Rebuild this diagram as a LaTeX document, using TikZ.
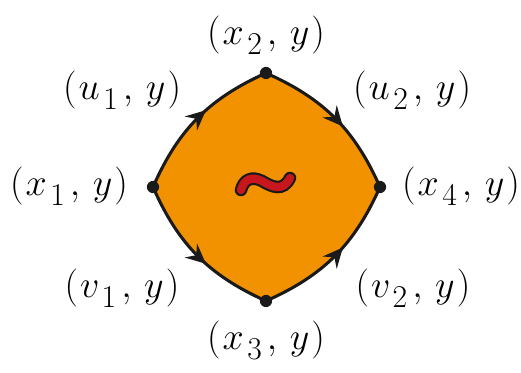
\documentclass[tikz,border=0pt]{standalone}
\usepackage{fontspec}
\usetikzlibrary{arrows.meta,decorations.markings}
\definecolor{kiteorange}{HTML}{F29200}
\definecolor{squigred}{HTML}{C8161D}
\definecolor{inkdark}{HTML}{1A1A1A}
\newcommand{\pt}[2]{$(\mkern1mu#1_{\mkern2mu\lower0.12em\hbox{$\scriptstyle#2$}}\mkern2mu,\mkern3mu y\mkern1mu)$}
\tikzset{
  edge/.style={line width=2pt,draw=inkdark,postaction={decorate},
    decoration={markings,mark=at position 0.57 with {\arrow{Stealth[length=13pt,width=12pt,inset=4.5pt]}}}},
  vert/.style={circle,fill=inkdark,inner sep=0pt,minimum size=8pt},
  lab/.style={font=\Huge,inner sep=0pt},
}
\begin{document}
\begin{tikzpicture}[x=0.023cm,y=0.023cm]
  \useasboundingbox (0,0) rectangle (521,373);
  % corners of the square
  \coordinate (pL) at (153,186);
  \coordinate (pT) at (266,300);
  \coordinate (pR) at (380,186);
  \coordinate (pB) at (266,72);
  % filled face
  \fill[kiteorange] (pL) to[bend left=21] (pT) to[bend left=21] (pR)
    to[bend left=21] (pB) to[bend left=21] (pL) -- cycle;
  % oriented edges
  \draw[edge] (pL) to[bend left=21] (pT);
  \draw[edge] (pT) to[bend left=21] (pR);
  \draw[edge] (pL) to[bend right=21] (pB);
  \draw[edge] (pB) to[bend right=21] (pR);
  % vertices
  \node[vert] (dotL) at (pL) {};
  \node[vert] (dotT) at (pT) {};
  \node[vert] (dotR) at (pR) {};
  \node[vert] (dotB) at (pB) {};
  % squiggle in the middle
  \draw[double=squigred,double distance=5.4pt,line width=1.4pt,draw=inkdark,line cap=round]
    (241,183) .. controls (244,194) and (252,197) .. (262,192)
    .. controls (272,186) and (283,181) .. (290,195);
  % labels
  \node[lab] (lxt) at (266,338) {\pt{x}{2}};
  \node[lab] (lxl) at (69,187) {\pt{x}{1}};
  \node[lab] (lxr) at (461,187) {\pt{x}{4}};
  \node[lab] (lxb) at (266,33) {\pt{x}{3}};
  \node[lab] (lu1) at (122,283) {\pt{u}{1}};
  \node[lab] (lu2) at (412,283) {\pt{u}{2}};
  \node[lab] (lv1) at (122,85) {\pt{v}{1}};
  \node[lab] (lv2) at (413,85) {\pt{v}{2}};
\end{tikzpicture}
\end{document}
